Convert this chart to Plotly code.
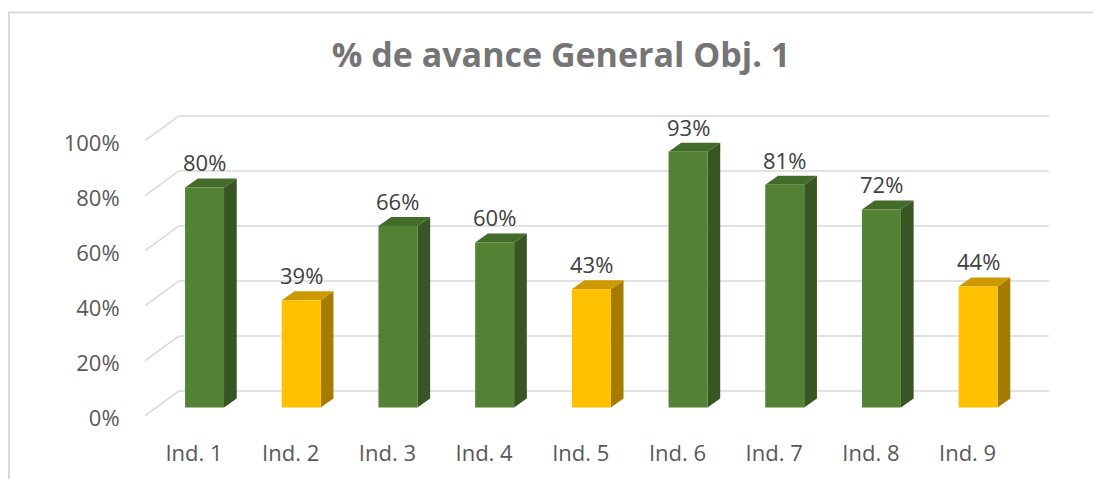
import plotly.graph_objects as go

# ---------------- data ----------------
categories = ["Ind. 1", "Ind. 2", "Ind. 3", "Ind. 4", "Ind. 5",
              "Ind. 6", "Ind. 7", "Ind. 8", "Ind. 9"]
values = [0.80, 0.39, 0.66, 0.60, 0.43, 0.93, 0.81, 0.72, 0.44]
tick_values = [0.0, 0.2, 0.4, 0.6, 0.8, 1.0]
tick_labels = ["0%", "20%", "40%", "60%", "80%", "100%"]
title_text = "% de avance General Obj. 1"
threshold = 0.5  # below -> yellow

# ---------------- styles / geometry ----------------
OFF = 8                                   # page body margin of the browser
W, H = 1101 - OFF, 479 - OFF             # figure size
PL, PR, PT, PB = 145 - OFF, 1049 - OFF, 100 - OFF, 430 - OFF   # plot area (figure px)
CAT0_PX, CAT_PX = 194.0 - OFF, 96.7       # px of category 0, px per category
UNIT_PX = 276.7                           # px per 100 %
BACK0, FRONT0, LABEL0 = 392.7 - OFF, 409.3 - OFF, 420.0 - OFF
BACK_LEFT_PX = 179.0 - OFF
DEPTH_X, DEPTH_Y = 12.7, 9.0              # bar depth in px
BAR_OFF, BAR_W = 0.109, 0.403             # front face centre offset and width (category units)

GREEN = dict(front="#548235", top="#436b2a", side="#375623")
YELLOW = dict(front="#FFC000", top="#CC9900", side="#A67C00")
GRID = "#d9d9d9"
FONT = "Open Sans"

xr = [(PL - CAT0_PX) / CAT_PX, (PR - CAT0_PX) / CAT_PX]
x_back_left = (BACK_LEFT_PX - CAT0_PX) / CAT_PX


def yrange(zero_px):
    return [(zero_px - PB) / UNIT_PX, (zero_px - PT) / UNIT_PX]


dxu = DEPTH_X / CAT_PX
dyu = DEPTH_Y / UNIT_PX

fig = go.Figure()

# bars (drawn on the "front" axis y3)
for i, v in enumerate(values):
    c = YELLOW if v < threshold else GREEN
    a = i + BAR_OFF - BAR_W / 2
    b = i + BAR_OFF + BAR_W / 2
    faces = [
        ("side", [b, b + dxu, b + dxu, b, b], [0, dyu, v + dyu, v, 0]),
        ("top", [a, a + dxu, b + dxu, b, a], [v, v + dyu, v + dyu, v, v]),
        ("front", [a, b, b, a, a], [0, 0, v, v, 0]),
    ]
    for name, xs, ys in faces:
        fig.add_trace(go.Scatter(
            x=xs, y=ys, mode="lines", fill="toself", fillcolor=c[name],
            line=dict(width=0, color=c[name]), hoverinfo="skip",
            showlegend=False, xaxis="x", yaxis="y3"))
    fig.add_annotation(
        x=i + BAR_OFF, y=v, xref="x", yref="y3", text=f"{round(v * 100)}%",
        showarrow=False, yanchor="middle", yshift=25,
        font=dict(family=FONT, size=22, color="#404040"))

# gridlines on back wall (y2) and short side-wall segments
slant_dy = 25 / UNIT_PX
for tv in tick_values:
    fig.add_shape(type="line", xref="x", yref="y2", layer="below",
                  x0=x_back_left, x1=xr[1], y0=tv, y1=tv,
                  line=dict(color=GRID, width=1.5))
    fig.add_shape(type="line", xref="x", yref="y2", layer="below",
                  x0=xr[0], x1=x_back_left, y0=tv - slant_dy, y1=tv,
                  line=dict(color=GRID, width=1.5))

# invisible traces to activate y (label axis) and y2
fig.add_trace(go.Scatter(x=[None], y=[None], xaxis="x", yaxis="y",
                         showlegend=False, hoverinfo="skip"))
fig.add_trace(go.Scatter(x=[None], y=[None], xaxis="x", yaxis="y2",
                         showlegend=False, hoverinfo="skip"))


# chart-area border (paper coords)
def px2paper_x(px):
    return (px - PL) / (PR - PL)


def px2paper_y(py):
    return (PB - py) / (PB - PT)


fig.add_shape(type="path", xref="paper", yref="paper",
              path=(f"M {px2paper_x(8 - OFF + 1)},{px2paper_y(H + 5)} "
                    f"L {px2paper_x(8 - OFF + 1)},{px2paper_y(12 - OFF)} "
                    f"L {px2paper_x(W + 5)},{px2paper_y(12 - OFF)}"),
              line=dict(color="#d9d9d9", width=2))

fig.update_layout(
    width=W, height=H,
    margin=dict(l=PL, r=W - PR, t=PT, b=H - PB, pad=0),
    paper_bgcolor="white", plot_bgcolor="rgba(0,0,0,0)",
    showlegend=False,
    title=dict(text=f"<b>{title_text}</b>", x=(561 - OFF) / W, xanchor="center",
               y=1 - (55 - OFF) / H, yanchor="middle",
               font=dict(family=FONT, size=34, color="#757575")),
    xaxis=dict(range=xr, tickmode="array", tickvals=list(range(len(categories))),
               ticktext=categories, showgrid=False, zeroline=False, showline=False,
               ticks="outside", ticklen=6, tickcolor="rgba(0,0,0,0)",
               tickfont=dict(family=FONT, size=22, color="#595959")),
    yaxis=dict(range=yrange(LABEL0), tickmode="array", tickvals=tick_values,
               ticktext=tick_labels, showgrid=False, zeroline=False, showline=False,
               ticks="outside", ticklen=20, tickcolor="rgba(0,0,0,0)",
               tickfont=dict(family=FONT, size=22, color="#595959")),
    yaxis2=dict(range=yrange(BACK0), overlaying="y", showgrid=False, zeroline=False,
                showticklabels=False, showline=False),
    yaxis3=dict(range=yrange(FRONT0), overlaying="y", showgrid=False, zeroline=False,
                showticklabels=False, showline=False),
)

fig.write_html("out.html")
